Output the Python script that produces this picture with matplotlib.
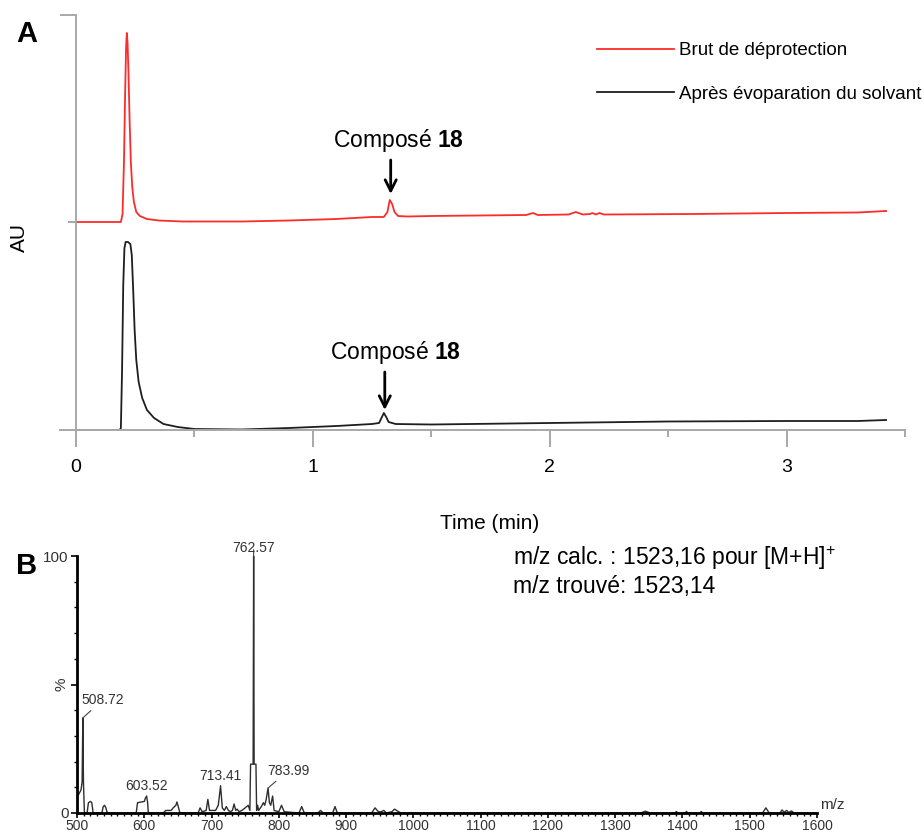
# HPLC chromatograms (A) and mass spectrum (B) of compound 18
import numpy as np
import matplotlib.pyplot as plt
from matplotlib.ticker import MultipleLocator

plt.rcParams['font.family'] = ['Liberation Sans', 'DejaVu Sans']
plt.rcParams['mathtext.fontset'] = 'custom'
plt.rcParams['mathtext.rm'] = 'Liberation Sans'
plt.rcParams['mathtext.bf'] = 'Liberation Sans:bold'

# --- A: chromatograms (time in min, signal in AU, arbitrary scale) ---
red_t = [0.00, 0.19, 0.197, 0.203, 0.208, 0.212, 0.215, 0.218, 0.222, 0.227,
         0.232, 0.238, 0.245, 0.255, 0.27, 0.30, 0.35, 0.45, 0.70, 0.90,
         1.10, 1.25, 1.30, 1.315, 1.325, 1.335, 1.345, 1.36, 1.40, 1.50,
         1.70, 1.90, 1.93, 1.95, 2.08, 2.11, 2.14, 2.17, 2.18, 2.195,
         2.21, 2.23, 2.60, 3.00, 3.30, 3.42]
red_y = [0, 0, 8, 60, 130, 175, 189, 180, 150, 100,
         60, 35, 20, 10, 6, 3, 1.5, 0.5, 0.5, 1.5,
         3, 5, 5, 10, 22, 18, 10, 6, 5.5, 6,
         6.5, 7, 9, 7, 7.5, 10, 7.5, 8, 9, 7.5,
         9, 7.5, 8, 9, 9.5, 11]
red_offset = 208

black_t = [0.00, 0.185, 0.190, 0.195, 0.200, 0.205, 0.210, 0.220, 0.230, 0.236,
           0.242, 0.248, 0.255, 0.265, 0.28, 0.30, 0.33, 0.37, 0.43, 0.50,
           0.70, 0.90, 1.10, 1.25, 1.28, 1.29, 1.30, 1.31, 1.32, 1.35,
           1.50, 2.00, 2.50, 3.00, 3.30, 3.42]
black_y = [0, 0, 2, 60, 145, 182, 188, 188, 186, 175,
           140, 100, 70, 48, 32, 20, 12, 6, 3, 1,
           0.5, 2, 4, 6, 7, 12, 17, 13, 8, 6,
           5.5, 7, 8.5, 9, 9, 10]

series_names = ['Brut de déprotection', 'Après évoparation du solvant']

# --- B: ESI mass spectrum (m/z, relative intensity %) ---
ms_mz = [500, 506, 507.6, 508.7, 509.6, 511, 515, 517, 520, 522,
         524, 537, 539, 541, 543, 545, 588, 590, 600, 602,
         603.5, 605, 606, 628, 632, 640, 643, 647, 648.5, 650,
         653, 680, 683, 686, 692, 694.5, 697, 700, 706, 710,
         713.4, 716, 719, 722, 725, 728, 731, 733.5, 736, 738,
         741, 745, 750, 754.5, 757, 758, 761.8, 762.57, 763.3, 766,
         767, 768.5, 770, 774, 777, 779, 781, 784, 786, 788,
         790.8, 793, 800, 804, 808, 830, 834, 838, 858, 862,
         866, 880, 883.5, 887, 938, 943, 948, 952, 956, 960,
         968, 972, 978, 982, 1338, 1345, 1352, 1389, 1391, 1393,
         1404, 1406, 1408, 1426, 1428, 1430, 1519, 1524, 1529, 1545,
         1548, 1551, 1555, 1558, 1562, 1566, 1600]
ms_int = [6, 9, 12, 37, 12, 0, 0, 4, 4.5, 4,
          0, 0, 2.5, 3, 2, 0, 0, 4, 4.5, 6,
          6.5, 4, 0, 0, 1, 1, 2, 3, 4.3, 3,
          0, 0, 2, 0.5, 1, 5.3, 1, 1, 1, 3,
          10.5, 2, 1, 2.5, 1, 0.5, 1, 3.5, 1, 1.5,
          0.5, 1, 2, 3, 1, 19, 19, 100, 19, 19,
          1, 3, 1, 2.5, 4, 3, 5, 9.7, 4, 3,
          6.6, 1, 0.5, 3, 0.5, 0, 2.5, 0, 0, 1,
          0, 0, 2.5, 0, 0, 2, 0.5, 0.5, 1, 0,
          0.5, 1.5, 0.5, 0, 0, 0.7, 0, 0, 0.6, 0,
          0, 0.6, 0, 0, 0.6, 0, 0, 2, 0, 0,
          1.2, 0.3, 1, 0.2, 0.8, 0, 0]

peak_mz = [508.72, 603.52, 713.41, 762.57, 783.99]
peak_top = [37, 6.5, 10.5, 100, 9.7]

W, H = 924, 834
fig = plt.figure(figsize=(W / 100, H / 100), dpi=100)


def box(x0, y0, x1, y1):
    return [x0 / W, 1 - y1 / H, (x1 - x0) / W, (y1 - y0) / H]


grey = '#a8a8a8'

# ---------------- panel A ----------------
axA = fig.add_axes(box(60, 15, 905, 430))
axA.plot(red_t, np.array(red_y) + red_offset, color='#ff2b2b', lw=1.3,
         label=series_names[0])
axA.plot(black_t, black_y, color='#1e1e1e', lw=1.3, label=series_names[1])
axA.set_xlim(-0.067, 3.5)
axA.set_ylim(0, 415)
for s in ['top', 'right']:
    axA.spines[s].set_visible(False)
axA.spines['left'].set_position(('data', 0))
for s in ['left', 'bottom']:
    axA.spines[s].set_color(grey)
    axA.spines[s].set_linewidth(1.4)
axA.set_xticks([0, 1, 2, 3])
axA.set_xticks([0.5, 1.5, 2.5, 3.5], minor=True)
axA.set_yticks([415])
axA.set_yticks([red_offset], minor=True)
axA.set_yticklabels([])
axA.tick_params(axis='x', which='major', length=12, width=1.4, color=grey,
                labelsize=14, pad=9)
axA.tick_params(axis='x', which='minor', length=5, width=1.4, color=grey)
axA.tick_params(axis='y', which='major', length=11.5, width=1.4, color=grey)
axA.tick_params(axis='y', which='minor', length=5.8, width=1.4, color=grey)
axA.set_xlabel('Time (min)', fontsize=15, va='center')
axA.xaxis.set_label_coords(0.509, -0.2265)
axA.set_ylabel('AU', fontsize=15, va='center')
axA.yaxis.set_label_coords(-0.0485, 0.4627)

axA.legend(loc='upper left', bbox_to_anchor=(597 / W, 1 - 42 / H),
           bbox_transform=fig.transFigure, frameon=False, fontsize=13.5,
           handlelength=4.1, handletextpad=0.27, labelspacing=1.42,
           borderpad=0, borderaxespad=0)

# compound 18 markers
axA.text(1.363, 290, 'Composé $\\mathbf{18}$', ha='center', va='center', fontsize=16.5)
axA.annotate('', xy=(1.329, 236), xytext=(1.329, 270),
             arrowprops=dict(arrowstyle='->', lw=2, color='black', mutation_scale=20,
                             shrinkA=0, shrinkB=0))
axA.text(1.348, 77, 'Composé $\\mathbf{18}$', ha='center', va='center', fontsize=16.5)
axA.annotate('', xy=(1.304, 20), xytext=(1.304, 58),
             arrowprops=dict(arrowstyle='->', lw=2, color='black', mutation_scale=20,
                             shrinkA=0, shrinkB=0))

fig.text(27 / W, 1 - 34 / H, 'A', fontsize=21, weight='bold', ha='center', va='center')

# ---------------- panel B ----------------
axB = fig.add_axes(box(77, 556, 817, 813))
axB.plot(ms_mz, ms_int, color='#2e2e2e', lw=1)
axB.set_xlim(500, 1600)
axB.set_ylim(0, 100)
for s in ['top', 'right']:
    axB.spines[s].set_visible(False)
for s in ['left', 'bottom']:
    axB.spines[s].set_linewidth(2)
axB.xaxis.set_major_locator(MultipleLocator(100))
axB.xaxis.set_minor_locator(MultipleLocator(10))
axB.set_yticks([0, 50, 100])
axB.set_yticklabels(['0', '%', '100'])
axB.get_yticklabels()[1].set_rotation(90)
axB.get_yticklabels()[1].set_va('center')
axB.yaxis.set_minor_locator(MultipleLocator(10))
axB.tick_params(axis='x', which='major', length=3.5, width=1.2, labelsize=10, pad=0.5,
                labelcolor='#333333')
axB.tick_params(axis='x', which='minor', length=2.2, width=1)
axB.tick_params(axis='y', which='major', length=4, width=1.2, labelsize=11, pad=2,
                labelcolor='#333333')
axB.tick_params(axis='y', which='minor', length=2.5, width=1)
axB.text(1604, 0.5, 'm/z', fontsize=11, color='#333333', ha='left', va='bottom')

lab_pos = [(538, 44), (603.5, 10.5), (713.4, 14.5), (762.57, 103), (814, 16.5)]
for mz, top, (tx, ty) in zip(peak_mz, peak_top, lab_pos):
    axB.annotate(f'{mz:.2f}', xy=(mz, top), xytext=(tx, ty), ha='center', va='center',
                 fontsize=10, color='#333333', annotation_clip=False,
                 arrowprops=dict(arrowstyle='-', color='#444444', lw=0.8,
                                 shrinkA=1, shrinkB=0))

fig.text(513 / W, 1 - 558 / H, 'm/z calc. : 1523,16 pour [M+H]$^{+}$', fontsize=16.5,
         ha='left', va='center')
fig.text(513 / W, 1 - 587 / H, 'm/z trouvé: 1523,14', fontsize=16.5,
         ha='left', va='center')
fig.text(27 / W, 1 - 566 / H, 'B', fontsize=21, weight='bold', ha='center', va='center')

fig.savefig('out.png', dpi=100)
